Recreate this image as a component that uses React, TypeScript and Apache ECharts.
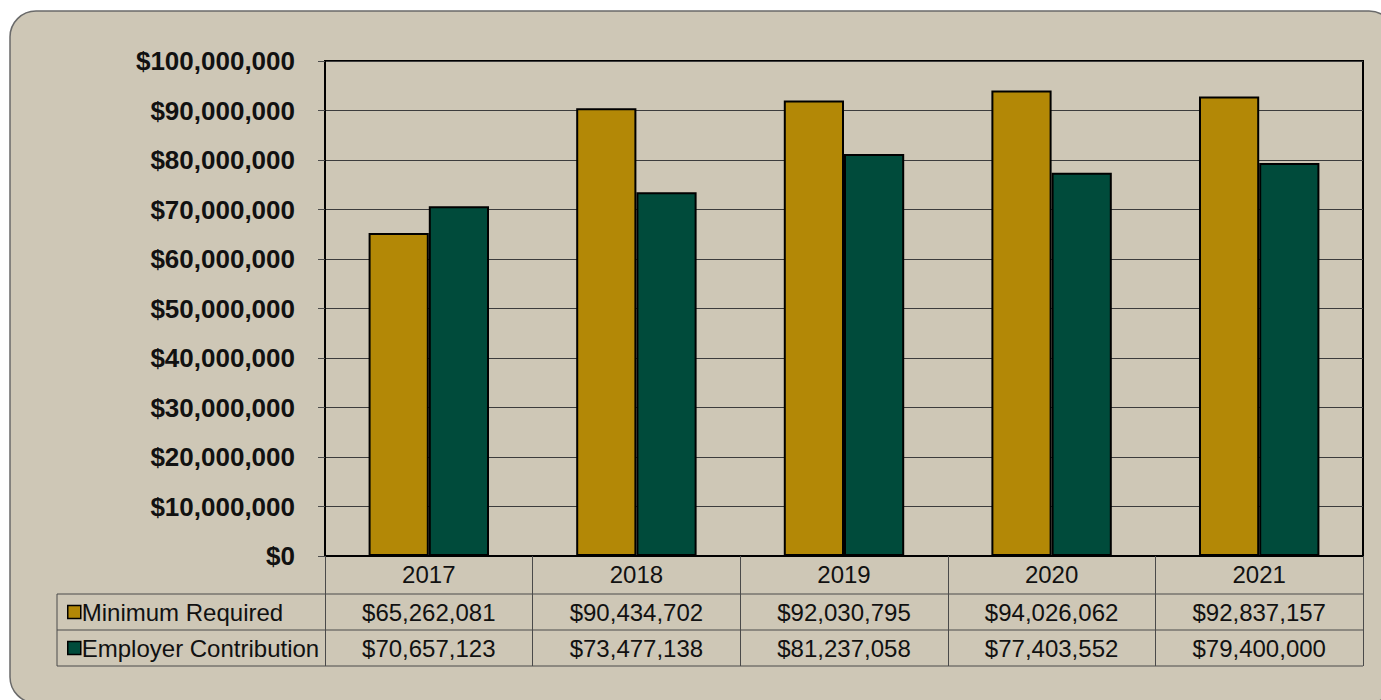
import React, { useEffect, useRef } from "react";
import * as echarts from "echarts";

const categories = ["2017", "2018", "2019", "2020", "2021"];
const minimumRequired = [65262081, 90434702, 92030795, 94026062, 92837157];
const employerContribution = [70657123, 73477138, 81237058, 77403552, 79400000];
const seriesNames = ["Minimum Required", "Employer Contribution"];
const yTicks = { min: 0, max: 100000000, interval: 10000000 };

const FONT = "Liberation Sans, Arial, Helvetica, sans-serif";
const GOLD = "#B38806";
const TEAL = "#004B3B";
const BG = "#CEC7B6";

const GRID_LEFT = 325;
const GRID_TOP = 61;
const GRID_W = 1038;
const GRID_H = 495;
const TABLE_LEFT = 57;
const ROW1_TOP = 594;
const ROW_H = 36;

const money = (v: number) => "$" + v.toLocaleString("en-US");

export default function App() {
  const ref = useRef<HTMLDivElement>(null);
  useEffect(() => {
    if (!ref.current) return;
    const chart = echarts.init(ref.current, undefined, { renderer: "svg" });
    const colW = GRID_W / categories.length;
    const rows = [minimumRequired, employerContribution];
    const right = GRID_LEFT + GRID_W;
    const graphics: any[] = [
      {
        type: "rect",
        z: -100,
        shape: { x: 10, y: 11, width: 1385, height: 692, r: 26 },
        style: { fill: BG, stroke: "#6a6a6a", lineWidth: 1.5 },
        silent: true,
      },
    ];
    [0, 1, 2].forEach((k) => {
      const y = ROW1_TOP + k * ROW_H;
      graphics.push({
        type: "line",
        shape: { x1: TABLE_LEFT, y1: y, x2: right, y2: y },
        style: { stroke: "#4a4a4a", lineWidth: 1 },
      });
    });
    graphics.push({
      type: "line",
      shape: { x1: TABLE_LEFT, y1: ROW1_TOP, x2: TABLE_LEFT, y2: ROW1_TOP + 2 * ROW_H },
      style: { stroke: "#4a4a4a", lineWidth: 1 },
    });
    rows.forEach((vals, r) => {
      vals.forEach((v, i) => {
        graphics.push({
          type: "text",
          x: GRID_LEFT + colW * (i + 0.5),
          y: ROW1_TOP + ROW_H * (r + 0.5),
          style: {
            text: money(v),
            fill: "#111",
            font: `24px ${FONT}`,
            align: "center",
            verticalAlign: "middle",
          },
        });
      });
    });

    chart.setOption({
      animation: false,
      textStyle: { fontFamily: FONT },
      grid: {
        left: GRID_LEFT,
        top: GRID_TOP,
        width: GRID_W,
        height: GRID_H,
        show: true,
        borderColor: "#000",
        borderWidth: 2,
        backgroundColor: "transparent",
      },
      legend: {
        orient: "vertical",
        left: 62,
        top: 595,
        padding: 5,
        itemWidth: 13,
        itemHeight: 13,
        itemGap: 12,
        icon: "rect",
        data: seriesNames,
        itemStyle: { borderColor: "#000", borderWidth: 1.5 },
        textStyle: {
          fontSize: 24,
          lineHeight: 24,
          color: "#111",
          fontFamily: FONT,
          padding: [0, 0, 0, -4],
        },
      },
      xAxis: {
        type: "category",
        data: categories,
        axisLine: { show: true, lineStyle: { color: "#000", width: 2 } },
        axisTick: { show: true, length: 110, lineStyle: { color: "#4a4a4a", width: 1 } },
        axisLabel: { fontSize: 24, color: "#111", margin: 6, fontFamily: FONT },
      },
      yAxis: {
        type: "value",
        min: yTicks.min,
        max: yTicks.max,
        interval: yTicks.interval,
        axisLine: { show: true, lineStyle: { color: "#000", width: 2 } },
        axisTick: { show: true, length: 7, lineStyle: { color: "#4a4a4a" } },
        splitLine: { show: true, lineStyle: { color: "#3c3c3c", width: 1 } },
        axisLabel: {
          fontSize: 26,
          fontWeight: "bold",
          color: "#111",
          margin: 30,
          fontFamily: FONT,
          formatter: (v: number) => money(v),
        },
      },
      series: [
        {
          name: seriesNames[0],
          type: "bar",
          data: minimumRequired,
          barGap: "0%",
          barCategoryGap: "42%",
          itemStyle: { color: GOLD, borderColor: "#000", borderWidth: 2 },
        },
        {
          name: seriesNames[1],
          type: "bar",
          data: employerContribution,
          itemStyle: { color: TEAL, borderColor: "#000", borderWidth: 2 },
        },
      ],
      graphic: graphics,
    });
    return () => chart.dispose();
  }, []);
  return (
    <div
      ref={ref}
      style={{ position: "absolute", left: 0, top: 0, width: 1381, height: 700 }}
    />
  );
}
